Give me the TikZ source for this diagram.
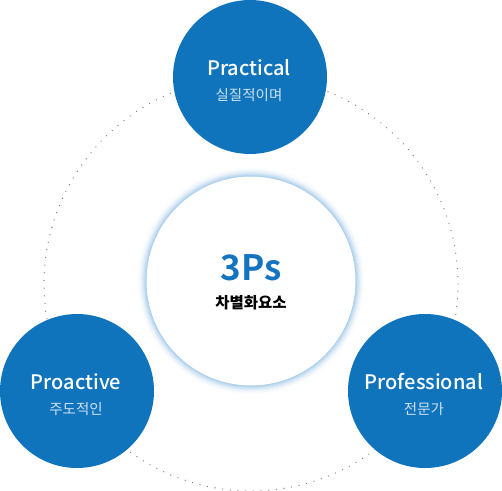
\documentclass[tikz,border=0pt]{standalone}
\usepackage{fontspec}
\setmainfont{Noto Sans}
\newfontfamily\kr{Noto Sans CJK KR}
\newfontfamily\lat{Noto Sans CJK KR}[UprightFont=* Medium, BoldFont=* Bold]
\definecolor{cblue}{RGB}{16,116,188}
\definecolor{tblue}{RGB}{20,116,192}
\definecolor{glow}{RGB}{165,203,234}
\definecolor{kortxt}{RGB}{205,225,242}
\definecolor{dotc}{RGB}{120,120,120}
\begin{document}
\begin{tikzpicture}[x=1pt,y=-1pt,
  outer/.style={circle, fill=cblue, inner sep=0pt, minimum size=154pt},
  entxt/.style={anchor=base, text=white, font=\lat\fontsize{20}{23}\selectfont, inner sep=0pt},
  kotxt/.style={anchor=center, text=kortxt, font=\kr\fontsize{14.5}{17}\selectfont, inner sep=0pt}]
\useasboundingbox (0,0) rectangle (502,490);
% dotted ring
\draw[dotc, line width=1.3pt, line cap=round, dash pattern=on 0pt off 7.7pt] (251,284) circle [radius=207pt];
% center circle glow
\foreach \i in {10,9,...,0}{
  \pgfmathsetmacro{\m}{100*(1-\i/10)^2}
  \fill[glow!\m!white] (251,281) circle [radius={(105+\i)*1pt}];
}
\node[circle, fill=white, inner sep=0pt, minimum size=209pt] (center) at (251,281) {};
\node[anchor=base, text=tblue, font=\lat\bfseries\fontsize{35}{40}\selectfont, inner sep=0pt] (ps) at (251,280) {3Ps};
\node[anchor=center, text=black, font=\kr\bfseries\fontsize{15.5}{18}\selectfont, inner sep=0pt] (diff) at (251,303) {차별화요소};
% outer circles
\node[outer] (top) at (250,77) {};
\node[outer] (left) at (77,391) {};
\node[outer] (right) at (425,391) {};
\node[entxt] (t1) at (249,75) {Practical};
\node[kotxt] (t2) at (249,95) {실질적이며};
\node[entxt] (l1) at (76,389) {Proactive};
\node[kotxt] (l2) at (76,409) {주도적인};
\node[entxt] (r1) at (424,389) {Professional};
\node[kotxt] (r2) at (424,409) {전문가};
\end{tikzpicture}
\end{document}
